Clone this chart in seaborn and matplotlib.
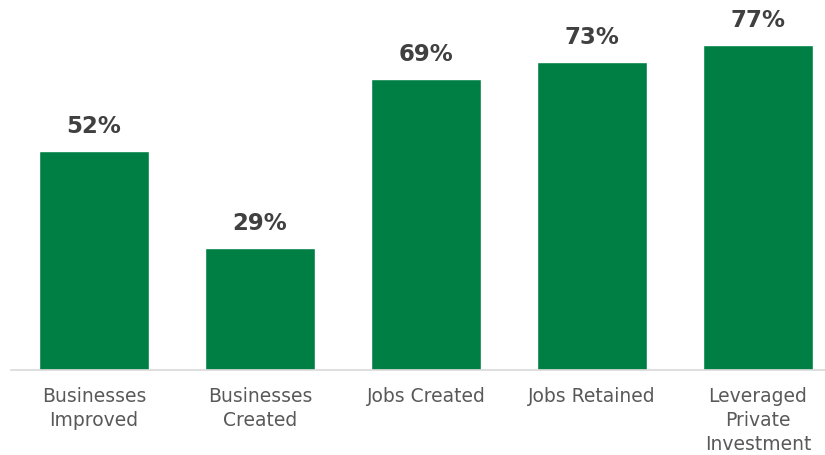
import matplotlib
matplotlib.use("Agg")
import matplotlib.pyplot as plt
import seaborn as sns
import pandas as pd

categories = ["Businesses\nImproved", "Businesses\nCreated", "Jobs Created",
              "Jobs Retained", "Leveraged\nPrivate\nInvestment"]
values = [52, 29, 69, 73, 77]
value_labels = ["52%", "29%", "69%", "73%", "77%"]

sns.set_theme(style="white")
plt.rcParams['font.family'] = ['DejaVu Sans']

df = pd.DataFrame({"category": categories, "value": values})

fig = plt.figure(figsize=(8.25, 4.55), dpi=100)
ax = fig.add_axes([11/825, 85/455, 814/825, 370/455])

sns.barplot(data=df, x="category", y="value", color="#007F45", saturation=1,
            width=110/166, ax=ax)

ax.set_xlim(-0.5, 4 + 67/166)
ax.set_ylim(0, 370/4.22)

for i, (v, lab) in enumerate(zip(values, value_labels)):
    ax.annotate(lab, (i, v), xytext=(0, 13), textcoords="offset pixels",
                ha="center", va="bottom", fontsize=16.5, fontweight="bold", color="#404040")

ax.set_xlabel("")
ax.set_ylabel("")
ax.set_yticks([])
for s in ["top", "right", "left"]:
    ax.spines[s].set_visible(False)
ax.spines["bottom"].set_color("#d9d9d9")
ax.spines["bottom"].set_linewidth(1.2)
ax.tick_params(axis="x", length=0, pad=12, labelsize=13.5, labelcolor="#595959")
for t in ax.get_xticklabels():
    t.set_linespacing(1.35)

fig.savefig("out.png", dpi=100)
